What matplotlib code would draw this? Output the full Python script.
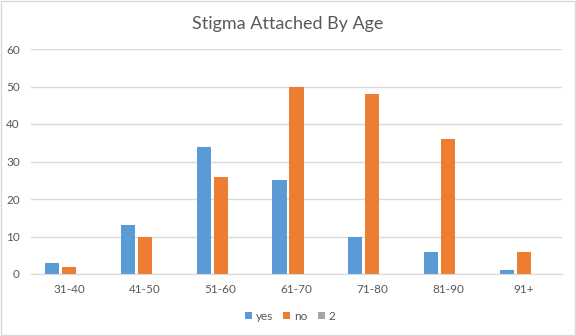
import matplotlib.pyplot as plt
import numpy as np

plt.rcParams['font.family'] = ['Lato', 'DejaVu Sans']

ages = ['31-40', '41-50', '51-60', '61-70', '71-80', '81-90', '91+']
yes = [3, 13, 34, 25, 10, 6, 1]
no = [2, 10, 26, 50, 48, 36, 6]
two = [0, 0, 0, 0, 0, 0, 0]

txt = '#595959'
grid = '#d9d9d9'

fig = plt.figure(figsize=(5.76, 3.36), dpi=100)
ax = fig.add_axes([31 / 576, 1 - 274 / 336, 531 / 576, 225 / 336])

x = np.arange(len(ages))
w = 0.185
step = 0.224
ax.bar(x - step, yes, w, color='#5b9bd5', label='yes', zorder=2)
ax.bar(x, no, w, color='#ed7d31', label='no', zorder=2)
ax.bar(x + step, two, w, color='#a5a5a5', label='2', zorder=2)

ax.set_xlim(-0.5, len(ages) - 0.5)
ax.set_ylim(0, 60)
ax.set_yticks(range(0, 61, 10))
ax.set_xticks(x)
ax.set_xticklabels(ages)
ax.yaxis.grid(True, color=grid, linewidth=1, zorder=0)
ax.tick_params(length=0, colors=txt, labelsize=8.5)
ax.tick_params(axis='x', pad=7)
ax.tick_params(axis='y', pad=8)
for s in ['top', 'right', 'left']:
    ax.spines[s].set_visible(False)
ax.spines['bottom'].set_color(grid)

fig.text(0.5, 1 - 24 / 336, 'Stigma Attached By Age', ha='center', va='center',
         fontsize=13, color=txt)

leg = fig.legend(loc='center', bbox_to_anchor=(290 / 576, 1 - 316 / 336), ncol=3,
                 frameon=False, fontsize=8.5, handlelength=0.6, handleheight=0.6,
                 handletextpad=0.3, columnspacing=0.9)
for t in leg.get_texts():
    t.set_color(txt)

fig.patches.append(plt.Rectangle((0.001, 0.002), 0.997, 0.995, transform=fig.transFigure,
                                 fill=False, edgecolor='#d9d9d9', linewidth=1))

plt.savefig('out.png', dpi=100)
